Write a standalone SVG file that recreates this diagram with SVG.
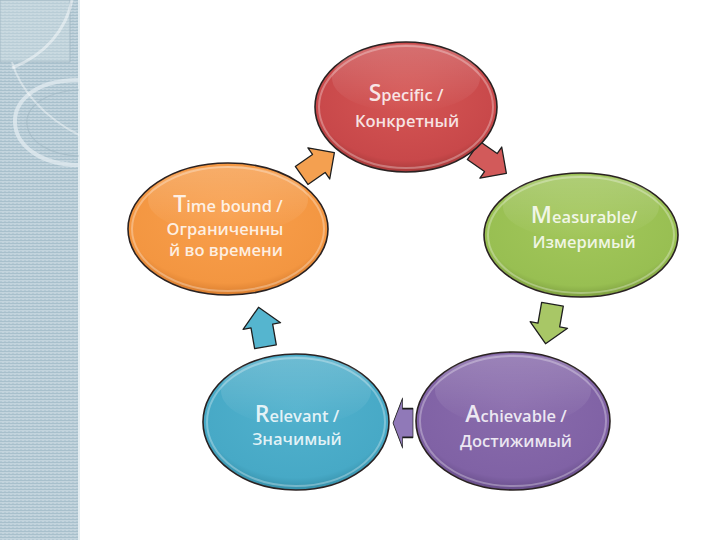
<svg xmlns="http://www.w3.org/2000/svg" width="720" height="540" viewBox="0 0 720 540">
<style>
.node{stroke:#2a2222;stroke-width:1.6}
.gloss{fill:url(#gloss)}
.rim{fill:none;stroke:#ffffff;stroke-opacity:0.3;stroke-width:2}
.arrow{stroke:#1e1e1e;stroke-width:1.3;stroke-linejoin:round}
.t{font-family:"Open Sans","Liberation Sans",sans-serif;font-size:16.5px;font-weight:600;fill:#ffffff;fill-opacity:0.85;text-anchor:middle}
.big{font-size:23px}
</style>
<defs>
<pattern id="stripes" width="4" height="3" patternUnits="userSpaceOnUse">
<rect width="4" height="3" fill="#c3d4dd"/>
<rect width="4" height="1" fill="#a8c0cc"/>
<rect x="0" y="2" width="2" height="1" fill="#b5cad5"/>
</pattern>
<radialGradient id="gRed" cx="50%" cy="40%" r="60%"><stop offset="0" stop-color="#d55654"/><stop offset="0.85" stop-color="#c8484a"/><stop offset="1" stop-color="#a83a3a"/></radialGradient>
<radialGradient id="gGreen" cx="50%" cy="40%" r="60%"><stop offset="0" stop-color="#a3c75b"/><stop offset="0.85" stop-color="#98bf52"/><stop offset="1" stop-color="#7ea040"/></radialGradient>
<radialGradient id="gOrange" cx="50%" cy="40%" r="60%"><stop offset="0" stop-color="#f99f4c"/><stop offset="0.85" stop-color="#f39641"/><stop offset="1" stop-color="#d97d2e"/></radialGradient>
<radialGradient id="gBlue" cx="50%" cy="40%" r="60%"><stop offset="0" stop-color="#51b1cd"/><stop offset="0.85" stop-color="#47a9c6"/><stop offset="1" stop-color="#3690aa"/></radialGradient>
<radialGradient id="gPurple" cx="50%" cy="40%" r="60%"><stop offset="0" stop-color="#896bac"/><stop offset="0.85" stop-color="#8062a5"/><stop offset="1" stop-color="#684e8a"/></radialGradient>
<linearGradient id="gloss" x1="0" y1="0" x2="0" y2="1"><stop offset="0" stop-color="#ffffff" stop-opacity="0.2"/><stop offset="1" stop-color="#ffffff" stop-opacity="0"/></linearGradient>
<path id="arr" d="M-20,-11 L1,-11 L1,-19 L20,0 L1,19 L1,11 L-20,11 Z"/>
</defs>
<rect width="720" height="540" fill="#ffffff"/>
<g id="sidebar">
<rect x="0" y="0" width="79" height="540" fill="url(#stripes)"/>
<rect x="78" y="0" width="2" height="540" fill="#e4edf1"/>
<rect x="0" y="0" width="70" height="62" fill="#d2e0e7" fill-opacity="0.4" stroke="#9fb5c0" stroke-width="0.8"/>
<path d="M72,0 C66,30 45,55 12,68" fill="none" stroke="#ffffff" stroke-opacity="0.45" stroke-width="3"/>
<path d="M79,80 C30,80 14,105 15,123 C16,145 40,165 79,165" fill="none" stroke="#e6eef2" stroke-opacity="0.7" stroke-width="4"/>
<path d="M79,90 C40,92 25,110 27,125 C29,142 50,155 79,156" fill="none" stroke="#9fb6c2" stroke-opacity="0.6" stroke-width="1.2"/>
<path d="M12,62 C20,90 45,118 79,135" fill="none" stroke="#ffffff" stroke-opacity="0.4" stroke-width="2"/>
</g>
<g id="connectors">
<use href="#arr" class="arrow" fill="#f4a050" transform="translate(318,164) rotate(-35)"/>
<use href="#arr" class="arrow" fill="#d25a5a" transform="translate(490,162) rotate(35)"/>
<use href="#arr" class="arrow" fill="#a8c766" transform="translate(549,324) rotate(100)"/>
<use href="#arr" class="arrow" fill="#9079b8" transform="translate(403,423) rotate(180) scale(0.5,1.3)"/>
<use href="#arr" class="arrow" fill="#55b5cf" transform="translate(262,327) rotate(-100)"/>
</g>
<g id="specific">
<ellipse class="node" cx="406" cy="107" rx="91" ry="65" fill="url(#gRed)"/>
<ellipse class="rim" cx="406" cy="107" rx="87" ry="61"/>
<ellipse class="gloss" cx="406" cy="78" rx="74" ry="34"/>
<text class="t" x="406" y="101"><tspan class="big">S</tspan>pecific /</text>
<text class="t" x="407" y="127">Конкретный</text>
</g>
<g id="measurable">
<ellipse class="node" cx="581" cy="235" rx="97" ry="62" fill="url(#gGreen)"/>
<ellipse class="rim" cx="581" cy="235" rx="93" ry="58"/>
<ellipse class="gloss" cx="581" cy="207" rx="78" ry="32"/>
<text class="t" x="584" y="223"><tspan class="big">M</tspan>easurable/</text>
<text class="t" x="584" y="248">Измеримый</text>
</g>
<g id="achievable">
<ellipse class="node" cx="513" cy="421" rx="97" ry="69" fill="url(#gPurple)"/>
<ellipse class="rim" cx="513" cy="421" rx="93" ry="65"/>
<ellipse class="gloss" cx="513" cy="390" rx="78" ry="36"/>
<text class="t" x="516" y="422"><tspan class="big">A</tspan>chievable /</text>
<text class="t" x="516" y="447">Достижимый</text>
</g>
<g id="relevant">
<ellipse class="node" cx="296" cy="422" rx="93" ry="68" fill="url(#gBlue)"/>
<ellipse class="rim" cx="296" cy="422" rx="89" ry="64"/>
<ellipse class="gloss" cx="296" cy="391" rx="75" ry="35"/>
<text class="t" x="297" y="422"><tspan class="big">R</tspan>elevant /</text>
<text class="t" x="297" y="445">Значимый</text>
</g>
<g id="timebound">
<ellipse class="node" cx="228" cy="229" rx="100" ry="66" fill="url(#gOrange)"/>
<ellipse class="rim" cx="228" cy="229" rx="96" ry="62"/>
<ellipse class="gloss" cx="228" cy="200" rx="80" ry="34"/>
<text class="t" x="228" y="212"><tspan class="big">T</tspan>ime bound /</text>
<text class="t" x="225" y="235">Ограниченны</text>
<text class="t" x="226" y="256">й во времени</text>
</g>
</svg>
